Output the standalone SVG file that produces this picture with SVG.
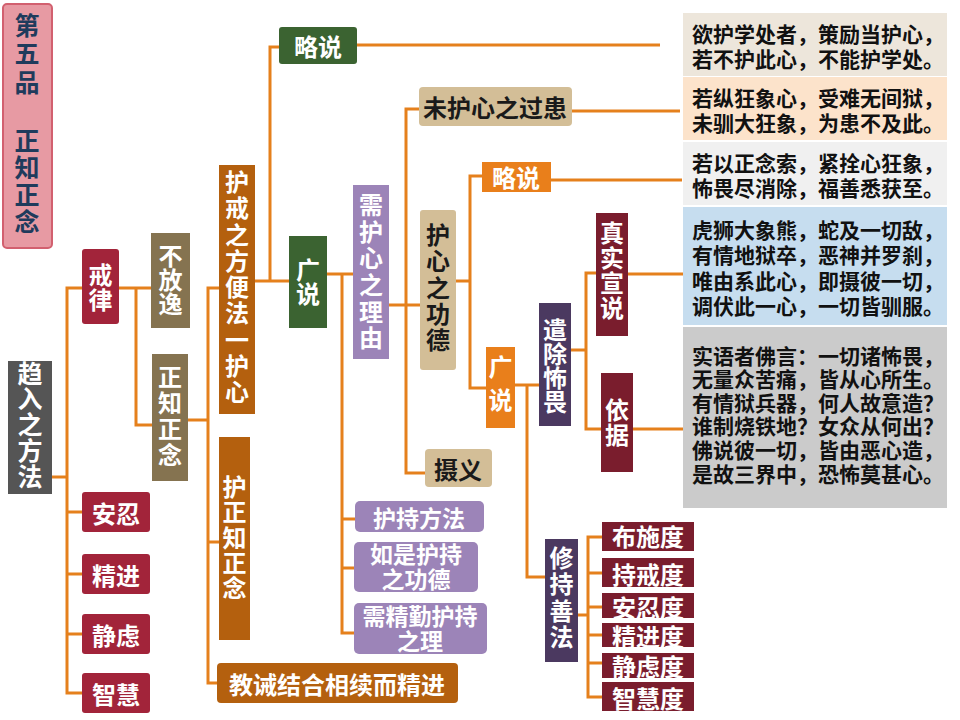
<svg xmlns="http://www.w3.org/2000/svg" width="960" height="720" viewBox="0 0 960 720">
<style>
.c{fill:none;stroke:#E5801C;stroke-width:3}
text{font-family:"Noto Sans CJK SC","Noto Sans",sans-serif;font-weight:bold;text-anchor:middle;dominant-baseline:central;font-size:24px}
.v{writing-mode:vertical-rl;text-anchor:start}
.w{fill:#fff}
.d{fill:#1a1a1a}
.q{font-size:21px;text-anchor:start;fill:#111}
.green{fill:#3B6331}
.brown{fill:#B4600E}
.crim{fill:#A2243A}
.olive{fill:#857350}
.lav{fill:#9C84B8}
.tan{fill:#D3BE97}
.orng{fill:#E97F1B}
.purp{fill:#4B3960}
.mar{fill:#7A1D2D}
</style>
<rect width="960" height="720" fill="#fff"/>
<g id="connectors">
<path class="c" d="M52,477H67"/>
<path class="c" d="M82,288H67V693H82M67,512H82M67,574H82M67,634H82"/>
<path class="c" d="M119,288H151M136,288V425H152"/>
<path class="c" d="M188,420H208M219,288H208V683H217M208,542H219"/>
<path class="c" d="M255,281H289M270,281V47H279"/>
<path class="c" d="M357,45H660"/>
<path class="c" d="M327,274H353M342,274V633H354M342,519H355M342,568H354"/>
<path class="c" d="M389,305H420M419,109H406V473H425"/>
<path class="c" d="M572,111H680"/>
<path class="c" d="M456,281H470M482,176H470V388H486"/>
<path class="c" d="M551,180H682"/>
<path class="c" d="M515,385H539M527,385V577H545"/>
<path class="c" d="M571,350H586M596,273H586V429H601"/>
<path class="c" d="M628,274H683"/>
<path class="c" d="M633,429H683"/>
<path class="c" d="M578,615H588M602,537H588V697H602M588,573H602M588,607H602M588,635H602M588,663H602"/>
</g>
<g id="title">
<rect x="3" y="4" width="49" height="244" rx="4" fill="#E79AA3" stroke="#D2606F" stroke-width="2"/>
<text class="v" x="27" y="12.5" style="fill:#1F3B5C;font-size:25px;letter-spacing:3.5px">第五品</text>
<text class="v" x="27" y="127.5" style="fill:#1F3B5C;font-size:25px;letter-spacing:2px">正知正念</text>
</g>
<g id="n-quru">
<rect x="8" y="361" width="44" height="133" fill="#555"/>
<text class="v w" x="30" y="360.5" style="font-size:25px;letter-spacing:0.75px">趋入之方法</text>
</g>
<g id="n-jielv">
<rect class="crim" x="82" y="249" width="37" height="75" rx="3"/>
<text class="v w" x="100.5" y="263" style="letter-spacing:1px">戒律</text>
</g>
<g id="n-anren"><rect class="crim" x="82" y="492" width="68" height="40" rx="3"/><text class="w" x="116" y="512">安忍</text></g>
<g id="n-jingjin"><rect class="crim" x="82" y="554" width="68" height="40" rx="3"/><text class="w" x="116" y="574">精进</text></g>
<g id="n-jinglv"><rect class="crim" x="82" y="614" width="68" height="40" rx="3"/><text class="w" x="116" y="634">静虑</text></g>
<g id="n-zhihui"><rect class="crim" x="82" y="673" width="68" height="40" rx="3"/><text class="w" x="116" y="693">智慧</text></g>
<g id="n-bufangyi">
<rect class="olive" x="151" y="233" width="39" height="95"/>
<text class="v w" x="170.5" y="244">不放逸</text>
</g>
<g id="n-zhengzhi">
<rect class="olive" x="152" y="354" width="36" height="127"/>
<text class="v w" x="170" y="365" style="letter-spacing:2px">正知正念</text>
</g>
<g id="n-hujie">
<rect class="brown" x="219" y="165" width="36" height="249"/>
<text class="v w" x="237" y="170" style="letter-spacing:2.25px">护戒之方便法一护心</text>
</g>
<g id="n-huzhengzhi">
<rect class="brown" x="219" y="437" width="31" height="203"/>
<text class="v w" x="234.5" y="475" style="letter-spacing:1.25px">护正知正念</text>
</g>
<g id="n-jiaojie"><rect class="brown" x="217" y="663" width="241" height="40" rx="4"/><text class="w" x="337" y="683">教诫结合相续而精进</text></g>
<g id="n-lueshuo1"><rect class="green" x="279" y="27" width="78" height="37" rx="3"/><text class="w" x="318" y="45">略说</text></g>
<g id="n-guangshuo1">
<rect class="green" x="289" y="236" width="38" height="92"/>
<text class="v w" x="308" y="258">广说</text>
</g>
<g id="n-xuhuxin">
<rect class="lav" x="353" y="185" width="36" height="174"/>
<text class="v w" x="371" y="193" style="letter-spacing:2.6px">需护心之理由</text>
</g>
<g id="n-huchifangfa"><rect class="lav" x="355" y="501" width="129" height="31" rx="5"/><text class="w" x="419" y="517" style="font-size:23px">护持方法</text></g>
<g id="n-rushi"><rect class="lav" x="354" y="542" width="124" height="50" rx="5"/><text class="w" style="font-size:23px"><tspan x="416" y="553">如是护持</tspan><tspan x="416" y="578">之功德</tspan></text></g>
<g id="n-xujingqin"><rect class="lav" x="354" y="603" width="133" height="51" rx="5"/><text class="w" style="font-size:23px"><tspan x="420" y="615">需精勤护持</tspan><tspan x="420" y="640">之理</tspan></text></g>
<g id="n-weihuxin"><rect class="tan" x="419" y="87" width="153" height="39" rx="4"/><text class="d" x="495" y="106">未护心之过患</text></g>
<g id="n-huxingongde">
<rect class="tan" x="420" y="210" width="36" height="160" rx="3"/>
<text class="v d" x="438" y="223" style="letter-spacing:2.25px">护心之功德</text>
</g>
<g id="n-sheyi"><rect class="tan" x="425" y="449" width="67" height="38" rx="4"/><text class="d" x="458" y="468">摄义</text></g>
<g id="n-lueshuo2"><rect class="orng" x="482" y="162" width="69" height="30"/><text class="w" x="516" y="176">略说</text></g>
<g id="n-guangshuo2">
<rect class="orng" x="486" y="347" width="29" height="81"/>
<text class="v w" x="500.5" y="355" style="letter-spacing:9px">广说</text>
</g>
<g id="n-qianchu">
<rect class="purp" x="539" y="303" width="32" height="123"/>
<text class="v w" x="555" y="318">遣除怖畏</text>
</g>
<g id="n-zhenshi">
<rect class="mar" x="596" y="213" width="32" height="123"/>
<text class="v w" x="612" y="221" style="letter-spacing:1px">真实宣说</text>
</g>
<g id="n-yiju">
<rect class="mar" x="601" y="373" width="32" height="99"/>
<text class="v w" x="617" y="398" style="letter-spacing:1px">依据</text>
</g>
<g id="n-xiuchi">
<rect class="purp" x="545" y="539" width="33" height="123"/>
<text class="v w" x="561.5" y="546" style="letter-spacing:2.3px">修持善法</text>
</g>
<g id="n-bushi"><rect class="mar" x="602" y="522" width="92" height="29"/><text class="w" x="648" y="535">布施度</text></g>
<g id="n-chijie"><rect class="mar" x="602" y="558" width="92" height="29"/><text class="w" x="648" y="573">持戒度</text></g>
<g id="n-anrendu"><rect class="mar" x="602" y="593" width="92" height="25"/><text class="w" x="648" y="606">安忍度</text></g>
<g id="n-jingjindu"><rect class="mar" x="602" y="623" width="92" height="24"/><text class="w" x="648" y="635">精进度</text></g>
<g id="n-jinglvdu"><rect class="mar" x="602" y="653" width="92" height="25"/><text class="w" x="648" y="665">静虑度</text></g>
<g id="n-zhihuidu"><rect class="mar" x="602" y="682" width="92" height="29"/><text class="w" x="648" y="697">智慧度</text></g>
<g id="q1"><rect x="683" y="13" width="264" height="63" fill="#EDE6DB"/><text class="q"><tspan x="692" y="33">欲护学处者，策励当护心，</tspan><tspan x="692" y="58">若不护此心，不能护学处。</tspan></text></g>
<g id="q2"><rect x="683" y="77" width="264" height="63" fill="#FCE3CB"/><text class="q"><tspan x="692" y="97">若纵狂象心，受难无间狱，</tspan><tspan x="692" y="122">未驯大狂象，为患不及此。</tspan></text></g>
<g id="q3"><rect x="683" y="142" width="264" height="63" fill="#F0F0F0"/><text class="q"><tspan x="692" y="162">若以正念索，紧拴心狂象，</tspan><tspan x="692" y="187">怖畏尽消除，福善悉获至。</tspan></text></g>
<g id="q4"><rect x="683" y="207" width="264" height="118" fill="#C6DDEF"/><text class="q"><tspan x="692" y="229">虎狮大象熊，蛇及一切敌，</tspan><tspan x="692" y="254">有情地狱卒，恶神并罗刹，</tspan><tspan x="692" y="280">唯由系此心，即摄彼一切，</tspan><tspan x="692" y="305">调伏此一心，一切皆驯服。</tspan></text></g>
<g id="q5"><rect x="683" y="327" width="264" height="181" fill="#CBCBCB"/><text class="q"><tspan x="692" y="355">实语者佛言：一切诸怖畏，</tspan><tspan x="692" y="378">无量众苦痛，皆从心所生。</tspan><tspan x="692" y="402">有情狱兵器，何人故意造？</tspan><tspan x="692" y="425">谁制烧铁地？女众从何出？</tspan><tspan x="692" y="449">佛说彼一切，皆由恶心造，</tspan><tspan x="692" y="473">是故三界中，恐怖莫甚心。</tspan></text></g>
</svg>
